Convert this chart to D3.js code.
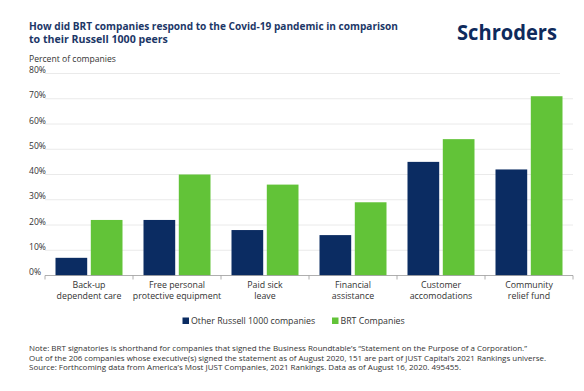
<!DOCTYPE html>
<html><head><meta charset="utf-8">
<script src="https://cdn.jsdelivr.net/npm/d3@7"></script>
<style>
html,body{margin:0;padding:0;background:#fff;}
svg{display:block;font-family:"Open Sans",sans-serif;}
</style></head>
<body>
<svg id="c" width="584" height="391"></svg>
<script>
const categories = [
  ["Back-up","dependent care"],
  ["Free personal","protective equipment"],
  ["Paid sick","leave"],
  ["Financial","assistance"],
  ["Customer","accomodations"],
  ["Community","relief fund"]
];
const seriesNames = ["Other Russell 1000 companies","BRT Companies"];
const otherRussell = [7,22,18,16,45,42];
const brtCompanies = [22,40,36,29,54,71];
const yTicks = [0,10,20,30,40,50,60,70,80];
const titleLines = ["How did BRT companies respond to the Covid-19 pandemic in comparison","to their Russell 1000 peers"];
const notes = [
  "Note: BRT signatories is shorthand for companies that signed the Business Roundtable\u2019s \u201CStatement on the Purpose of a Corporation.\u201D",
  "Out of the 206 companies whose executive(s) signed the statement as of August 2020, 151 are part of JUST Capital\u2019s 2021 Rankings universe.",
  "Source: Forthcoming data from America\u2019s Most JUST Companies, 2021 Rankings. Data as of August 16, 2020. 495455."
];
const colors = ["#0b2c62","#62c338"];
const navyText = "#1c3767";

const svg = d3.select("#c");
const pLeft = 45, pRight = 573, pTop = 73.5, pBottom = 275.5;

// title
const title = svg.append("g");
titleLines.forEach((t,i)=>{
  title.append("text").attr("x",29).attr("y",29.5+i*13.2)
    .attr("font-size",10.6).attr("font-weight",700).attr("fill",navyText)
    .attr("textLength", i===0?369:null).attr("lengthAdjust","spacingAndGlyphs")
    .text(t);
});
svg.append("text").attr("x",457).attr("y",39.5).attr("font-size",21).attr("font-weight",700)
  .attr("fill","#0e2a5c").attr("textLength",100).attr("lengthAdjust","spacingAndGlyphs").text("Schroders");

svg.append("text").attr("x",29).attr("y",62.3).attr("font-size",8.6).attr("fill","#333")
  .text("Percent of companies");

const x = d3.scaleBand().domain(d3.range(categories.length)).range([pLeft,pRight]).padding(0);
const xi = d3.scaleBand().domain([0,1]).range([10.5, x.bandwidth()-10.5]).paddingInner(0.102).paddingOuter(0);
const y = d3.scaleLinear().domain([0,80]).range([pBottom,pTop]);

// gridlines
svg.append("g").selectAll("line").data(yTicks.filter(d=>d>0)).join("line")
  .attr("x1",pLeft).attr("x2",d=>d===80?560:pRight)
  .attr("y1",d=>y(d)).attr("y2",d=>y(d))
  .attr("stroke","#e4e4e4").attr("stroke-width",0.8);

// y labels
svg.append("g").selectAll("text").data(yTicks).join("text")
  .attr("x",29).attr("y",d=>y(d)-0.5)
  .attr("font-size",8.6).attr("fill","#333")
  .text(d=>d+"%");

// bars
const data = categories.map((c,i)=>[otherRussell[i],brtCompanies[i]]);
const groups = svg.append("g").selectAll("g").data(data).join("g")
  .attr("transform",(d,i)=>`translate(${x(i)},0)`);
groups.selectAll("rect").data(d=>d).join("rect")
  .attr("x",(d,j)=>xi(j)).attr("width",xi.bandwidth())
  .attr("y",d=>y(d)).attr("height",d=>y(0)-y(d))
  .attr("fill",(d,j)=>colors[j]);

// x axis
const xAxisG = svg.append("g");
xAxisG.append("line").attr("x1",pLeft).attr("x2",pRight).attr("y1",pBottom).attr("y2",pBottom)
  .attr("stroke","#9a9a9a").attr("stroke-width",0.8);
xAxisG.selectAll("line.t").data(d3.range(categories.length+1)).join("line").attr("class","t")
  .attr("x1",i=>pLeft+i*x.step()).attr("x2",i=>pLeft+i*x.step())
  .attr("y1",pBottom).attr("y2",pBottom+4)
  .attr("stroke","#9a9a9a").attr("stroke-width",0.8);
categories.forEach((c,i)=>{
  c.forEach((line,k)=>{
    xAxisG.append("text").attr("x",x(i)+x.bandwidth()/2).attr("y",287.5+k*11.3)
      .attr("text-anchor","middle").attr("font-size",8.8).attr("fill","#333").text(line);
  });
});

// legend
const leg = svg.append("g");
const legX = [182.5, 332];
seriesNames.forEach((n,i)=>{
  leg.append("rect").attr("x",legX[i]).attr("y",317.5).attr("width",6.5).attr("height",6.5).attr("fill",colors[i]);
  leg.append("text").attr("x",legX[i]+8.5).attr("y",323.5).attr("font-size",8.8).attr("fill","#333").text(n);
});

// notes
const noteWidths = [498, 517, 432];
notes.forEach((t,i)=>{
  svg.append("text").attr("x",29).attr("y",351+i*9.5).attr("font-size",7.9).attr("fill","#333")
    .attr("textLength",noteWidths[i]).attr("lengthAdjust","spacingAndGlyphs").text(t);
});
</script>
</body></html>
